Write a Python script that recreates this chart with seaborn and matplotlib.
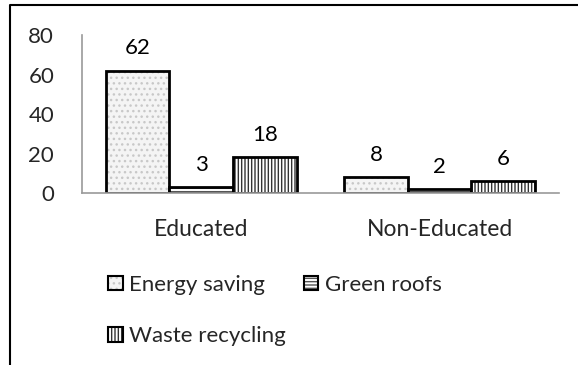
import matplotlib
matplotlib.use("Agg")
import matplotlib.pyplot as plt
import matplotlib.patches as mpatches
from matplotlib.colors import to_rgba
from matplotlib.lines import Line2D
import pandas as pd
import seaborn as sns

# ── Data ─────────────────────────────────────────────────────────────────────
groups = ["Educated", "Non-Educated"]
series = ["Energy saving", "Green roofs", "Waste recycling"]
energy_saving = [62, 8]
green_roofs = [3, 2]
waste_recycling = [18, 6]
y_ticks = [0, 20, 40, 60, 80]

HATCHES = {"Energy saving": "...", "Green roofs": "-----", "Waste recycling": "|||||"}
HATCH_COLORS = {"Energy saving": "#c8c8c8", "Green roofs": "#555555", "Waste recycling": "#333333"}
FACE_COLORS = {"Energy saving": "#f4f4f4", "Green roofs": "white", "Waste recycling": "white"}


def _hatch_color(patch, color):
    if hasattr(patch, "set_hatchcolor"):
        patch.set_hatchcolor(color)
    else:
        patch._hatch_color = to_rgba(color)


df = pd.DataFrame({
    "group": groups * 3,
    "series": [s for s in series for _ in groups],
    "value": energy_saving + green_roofs + waste_recycling,
})

sns.set_theme(style="white")
plt.rcParams["font.family"] = ["Lato", "DejaVu Sans"]
plt.rcParams["hatch.linewidth"] = 1.0

fig = plt.figure(figsize=(5.78, 3.65), dpi=100)
ax = fig.add_axes([0.1419, 0.4712, 0.967 - 0.1419, 0.904 - 0.4712])

sns.barplot(data=df, x="group", y="value", hue="series", hue_order=series,
            order=groups, ax=ax, palette=["white"] * 3,
            edgecolor="black", linewidth=2, legend=False, width=0.8)

for name, cont in zip(series, ax.containers):
    for bar in cont:
        bar.set_facecolor(FACE_COLORS[name])
        bar.set_edgecolor("black")
        bar.set_hatch(HATCHES[name])
        _hatch_color(bar, HATCH_COLORS[name])
        h = bar.get_height()
        ax.annotate(f"{h:.0f}", (bar.get_x() + bar.get_width() / 2, h),
                    xytext=(0, 9), textcoords="offset points",
                    ha="center", va="bottom", fontsize=16, color="black")

ax.set_ylim(0, 80)
ax.set_yticks(y_ticks)
ax.set_xlim(-0.5, 1.5)
ax.set_xlabel("")
ax.set_ylabel("")
ax.tick_params(axis="y", length=0, pad=20, labelsize=16)
ax.tick_params(axis="x", length=0, pad=19, labelsize=16.5)
for s in ["top", "right"]:
    ax.spines[s].set_visible(False)
ax.spines["left"].set_color("#9a9a9a")
ax.spines["bottom"].set_color("#9a9a9a")
ax.spines["left"].set_linewidth(1.2)
ax.spines["bottom"].set_linewidth(1.2)

# legend: row-wise order Energy, Green / Waste
handles = []
for name in series:
    p = mpatches.Patch(facecolor=FACE_COLORS[name], edgecolor="black",
                       hatch=HATCHES[name], linewidth=1.5)
    _hatch_color(p, HATCH_COLORS[name])
    handles.append(p)
order = [0, 2, 1]
fig.legend([handles[i] for i in order], [series[i] for i in order],
           loc="upper left", bbox_to_anchor=(0.187, 0.247), ncol=2,
           frameon=False, fontsize=16, handlelength=0.65, handleheight=0.65,
           handletextpad=0.3, labelspacing=1.4, columnspacing=0.8,
           borderaxespad=0, borderpad=0)

# outer frame (left and top edges)
fig.add_artist(Line2D([10 / 578, 10 / 578, 1], [0, 1 - 5 / 365, 1 - 5 / 365],
                      transform=fig.transFigure, color="black", linewidth=1.5))

fig.savefig("out.png", dpi=100)
